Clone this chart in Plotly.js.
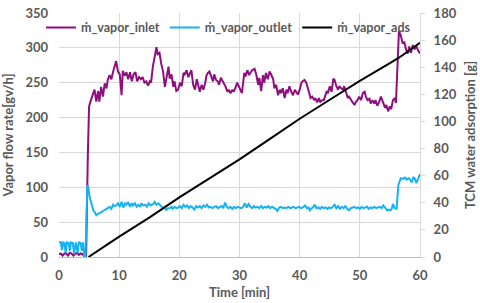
<!DOCTYPE html>
<html><head><meta charset="utf-8">
<script src="https://cdn.plot.ly/plotly-3.0.1.min.js"></script>
<style>html,body{margin:0;padding:0;background:#fff}#c{width:480px;height:303px}</style>
</head><body><div id="c"></div>
<script>
// ṁ_vapor_inlet [gv/h]
const tInlet = [0,0.3,0.6,0.9,1.2,1.5,1.8,2.1,2.4,2.7,3.0,3.3,3.6,3.9,4.2,4.5,4.8,5.0,5.3,5.6,5.9,6.2,6.5,6.7,7.0,7.3,7.6,7.9,8.1,8.4,8.7,9.0,9.25,9.5,9.8,10.1,10.4,10.6,10.9,11.2,11.5,11.8,12.1,12.4,12.7,13.0,13.3,13.6,13.9,14.2,14.5,14.8,15.1,15.3,15.6,15.9,16.2,16.4,16.7,17.0,17.3,17.6,17.9,18.2,18.4,18.7,19.0,19.2,19.5,19.8,20.1,20.4,20.7,20.9,21.2,21.5,21.8,22.0,22.3,22.6,22.9,23.2,23.4,23.7,24.0,24.3,24.5,24.75,25.0,25.3,25.6,25.8,26.1,26.4,26.6,26.9,27.2,27.4,27.7,28.0,28.2,28.5,28.8,29.0,29.3,29.6,29.9,30.1,30.4,30.8,31.0,31.3,31.6,31.8,32.1,32.5,32.8,33.1,33.3,33.6,33.9,34.1,34.4,34.7,35.0,35.3,35.6,35.8,36.1,36.4,36.7,36.9,37.2,37.5,37.8,38.0,38.3,38.6,38.9,39.2,39.5,39.7,40.0,40.3,40.5,40.8,41.1,41.3,41.6,41.8,42.1,42.4,42.6,42.9,43.2,43.4,43.7,44.0,44.2,44.5,44.7,45.0,45.3,45.6,45.8,46.1,46.4,46.6,46.9,47.2,47.4,47.7,48.0,48.2,48.5,48.8,49.1,49.3,49.6,49.9,50.2,50.5,50.8,51.0,51.3,51.6,51.8,52.1,52.4,52.6,52.9,53.2,53.5,53.6,53.9,54.2,54.4,54.7,55.0,55.2,55.5,55.8,56.0,56.3,56.5,56.8,57.1,57.4,57.7,58.0,58.2,58.5,58.8,59.1,59.4,59.7,60.0];
const vInlet = [4,5,2,5,5,2,6,5,2,5,6,3,5,4,1,0,150,216,225,232,240,223,238,223,244,230,249,242,254,261,255,266,276,281,266,262,232,267,260,265,255,265,252,262,265,252,258,255,258,250,252,246,252,250,273,288,301,291,293,277,266,244,258,273,256,262,244,252,238,240,250,245,264,262,268,258,264,268,247,240,255,244,237,247,240,250,260,264,266,259,252,262,254,252,247,257,252,250,244,237,240,235,240,237,242,250,244,240,235,264,259,268,261,264,268,270,261,247,257,238,261,250,264,255,266,261,255,242,247,232,240,235,242,228,240,235,245,237,232,240,235,233,240,250,252,254,250,245,235,228,230,225,228,222,228,222,225,225,230,238,235,245,237,256,254,245,240,245,242,240,245,236,228,230,225,222,218,222,225,230,225,235,237,230,225,227,220,225,220,225,217,222,230,228,222,214,218,209,216,212,225,228,221,278,324,318,307,308,297,292,302,293,304,298,302,296,292];

// ṁ_vapor_outlet [gv/h]
const tOutlet = [0,0.3,0.5,0.7,0.9,1.1,1.3,1.6,1.8,2.0,2.3,2.5,2.8,3.1,3.3,3.6,3.8,4.0,4.2,4.4,4.7,4.8,5.1,5.4,5.7,5.9,6.2,6.5,6.8,7.0,7.3,7.6,7.9,8.1,8.4,8.7,9.0,9.2,9.5,9.8,10.1,10.4,10.7,11.0,11.2,11.5,11.8,12.1,12.3,12.6,12.9,13.2,13.5,13.7,14.0,14.3,14.6,14.9,15.2,15.4,15.7,15.9,16.2,16.5,16.7,17.0,17.3,17.6,17.8,18.1,18.4,18.7,18.9,19.2,19.5,19.8,20.1,20.4,20.7,21.0,21.3,21.6,21.9,22.2,22.5,22.8,23.1,23.4,23.7,24.0,24.3,24.6,24.9,25.2,25.5,25.8,26.1,26.4,26.7,27.0,27.3,27.6,27.9,28.2,28.5,28.8,29.1,29.4,29.7,30.0,30.3,30.6,30.9,31.2,31.5,31.8,32.1,32.4,32.7,33.0,33.3,33.6,33.9,34.2,34.5,34.8,35.1,35.4,35.7,36.0,36.3,36.6,36.9,37.2,37.5,37.8,38.1,38.4,38.7,39.0,39.3,39.6,39.9,40.2,40.5,40.9,41.2,41.5,41.7,42.0,42.3,42.5,42.8,43.1,43.4,43.7,44.0,44.3,44.6,44.9,45.2,45.5,45.8,46.1,46.4,46.7,47.0,47.3,47.6,47.9,48.2,48.5,48.8,49.1,49.4,49.7,50.0,50.3,50.6,50.9,51.2,51.5,51.8,52.1,52.4,52.7,53.0,53.3,53.6,53.9,54.2,54.5,54.8,55.1,55.3,55.5,55.8,56.1,56.4,56.8,57.1,57.5,57.8,58.1,58.3,58.6,58.9,59.1,59.4,59.8,60.0];
const vOutlet = [21,21,10,21,20,6,21,20,9,21,20,5,21,6,21,20,9,21,0,0,101,103,86,74,67,65,60,62,63,64,66,67,69,70,72,69,75,73,74,77,72,79,71,77,75,79,72,77,74,77,72,75,72,77,74,75,72,77,74,75,76,79,75,77,75,72,70,72,67,70,70,72,69,72,70,71,73,70,75,72,74,70,73,71,68,73,71,73,70,74,72,75,71,72,70,72,73,70,72,73,70,78,72,70,72,69,72,70,72,71,70,72,77,71,76,72,70,73,71,72,70,73,70,72,71,73,70,72,71,69,66,71,72,70,71,70,72,70,71,72,70,71,72,70,71,74,70,71,67,70,72,75,70,71,69,72,70,71,69,71,70,72,75,70,73,69,72,70,73,69,67,70,71,72,70,71,69,72,70,71,72,69,71,70,72,70,71,72,70,74,71,67,68,67,69,76,70,69,103,113,112,114,111,113,112,107,114,113,106,117,119];

// ṁ_vapor_ads [g] (secondary axis)
const tAds = [4.9,10,15,20,25,30,35,40,45,50,55,56.5,60];
const vAds = [0,15,29,44,58,72,87,102,116,130,143,147,158];

const xTicks = [0,10,20,30,40,50,60];

const fnt = {family:'Lato, "Open Sans", sans-serif', size:13, color:'#595959', weight:'bold'};
const legFnt = {family:'Lato, "Open Sans", sans-serif', size:12.5, color:'#595959', weight:'bold'};
const traces = [
  {x:tInlet, y:vInlet, name:'ṁ_vapor_inlet', type:'scatter', mode:'lines', line:{color:'#8E0F7E', width:2}},
  {x:tOutlet, y:vOutlet, name:'ṁ_vapor_outlet', type:'scatter', mode:'lines', line:{color:'#17B2F0', width:2}},
  {x:tAds, y:vAds, name:'ṁ_vapor_ads', type:'scatter', mode:'lines', yaxis:'y2', line:{color:'#000000', width:2}}
];
const layout = {
  width:480, height:303,
  margin:{l:59, r:60, t:13, b:46, pad:0},
  paper_bgcolor:'#fff', plot_bgcolor:'#fff',
  font:fnt,
  showlegend:true,
  legend:{orientation:'h', x:-0.05, y:1.001, xanchor:'left', yanchor:'top', bgcolor:'rgba(0,0,0,0)', font:legFnt,
          itemwidth:30, tracegroupgap:0},
  xaxis:{range:[0,60], tickvals:xTicks, showgrid:true, gridcolor:'#D9D9D9', gridwidth:1, zeroline:false,
         showline:true, linecolor:'#BFBFBF', linewidth:1, ticks:'', ticklabelstandoff:6,
         title:{text:'Time [min]', font:fnt, standoff:6}, tickfont:fnt},
  yaxis:{range:[0,350], dtick:50, showgrid:true, gridcolor:'#D9D9D9', gridwidth:1, zeroline:false,
         showline:false, ticks:'', ticklabelstandoff:10,
         title:{text:'Vapor flow rate[gv/h]', font:fnt, standoff:8}, tickfont:fnt},
  yaxis2:{range:[0,180], dtick:20, overlaying:'y', side:'right', showgrid:false, zeroline:false,
          showline:true, linecolor:'#D9D9D9', linewidth:1, ticks:'outside', ticklen:4, tickcolor:'#D9D9D9',
          ticklabelstandoff:6,
          title:{text:'TCM water adsorption [g]', font:fnt, standoff:10}, tickfont:fnt}
};
Plotly.newPlot('c', traces, layout, {staticPlot:true, displayModeBar:false});
</script></body></html>
